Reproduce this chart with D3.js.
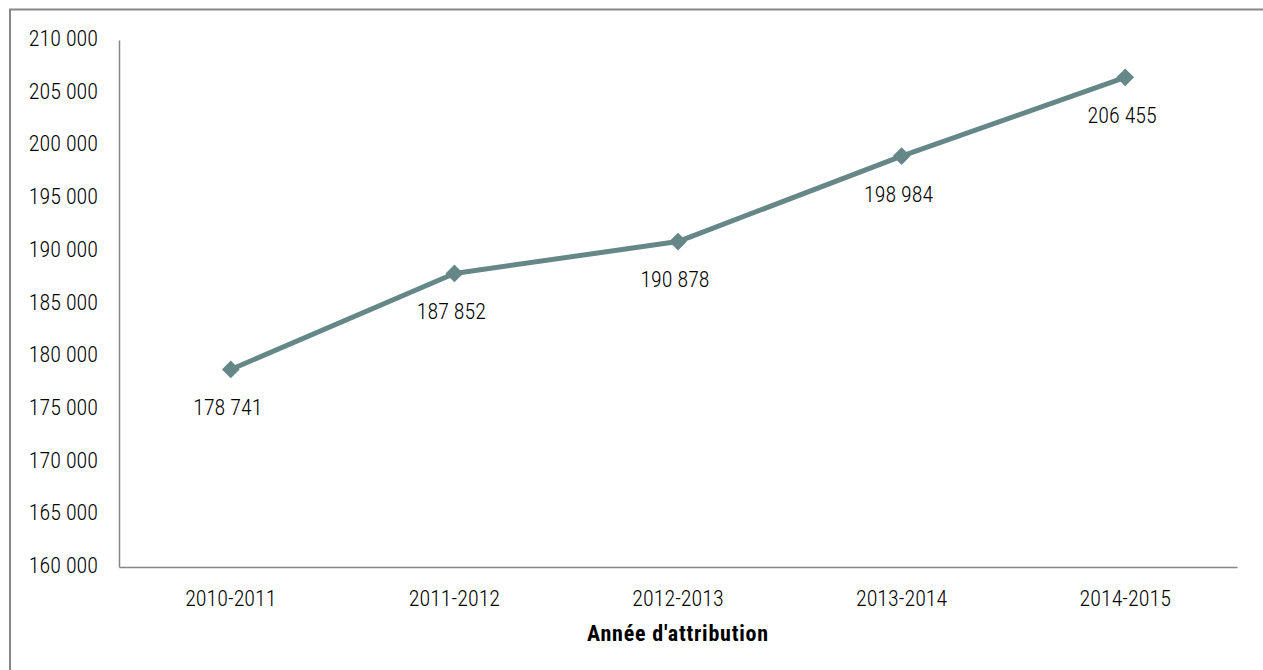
<!DOCTYPE html>
<html><head><meta charset="utf-8">
<script src="https://cdn.jsdelivr.net/npm/d3@7"></script>
<style>body{margin:0;background:#fff}svg{display:block}</style>
</head><body>
<svg id="c" width="1263" height="670"></svg>
<script>
const categories = ["2010-2011","2011-2012","2012-2013","2013-2014","2014-2015"];
const values = [178741, 187852, 190878, 198984, 206455];
const yTicks = [160000,165000,170000,175000,180000,185000,190000,195000,200000,205000,210000];
const xTitle = "Année d'attribution";

const font = "'Roboto Condensed','Liberation Sans Narrow','Arial Narrow',sans-serif";
const fs = 22;
const svg = d3.select("#c");
const m = {l:119, r:1237, t:40, b:567};
const color = "#668788";

svg.append("rect").attr("x",10).attr("y",9.5).attr("width",1300).attr("height",700)
  .attr("fill","none").attr("stroke","#878787").attr("stroke-width",2);

const x = d3.scaleBand().domain(categories).range([m.l, m.r]);
const y = d3.scaleLinear().domain([160000,210000]).range([m.b, m.t]);
const fmt = v => d3.format(",")(v).replace(/,/g, "\u00a0");

const yAxis = svg.append("g").attr("transform",`translate(${m.l},0)`)
  .call(d3.axisLeft(y).tickValues(yTicks).tickSize(0).tickPadding(21).tickFormat(fmt));
yAxis.select(".domain").attr("stroke","#868686").attr("stroke-width",1.5);
yAxis.selectAll("text").attr("font-family",font).attr("font-size",fs).attr("font-weight",300).attr("fill","#000")
  .attr("dy",null).attr("dominant-baseline","central").attr("y",-2);

const xAxis = svg.append("g").attr("transform",`translate(0,${m.b})`)
  .call(d3.axisBottom(x).tickSize(0));
xAxis.select(".domain").attr("stroke","#868686").attr("stroke-width",1.5);
xAxis.selectAll("text").attr("font-family",font).attr("font-size",fs).attr("font-weight",300).attr("fill","#000")
  .attr("dy",null).attr("y",31).attr("dominant-baseline","central");

svg.append("text").attr("x",(m.l+m.r)/2).attr("y",633).attr("text-anchor","middle")
  .attr("dominant-baseline","central").attr("letter-spacing",0.8)
  .attr("font-family",font).attr("font-size",fs).attr("font-weight","bold").text(xTitle);

const pts = categories.map((c,i)=>({c, v:values[i]}));
const cx = d => x(d.c) + x.bandwidth()/2;

svg.append("path").datum(pts)
  .attr("d", d3.line().x(cx).y(d=>y(d.v)))
  .attr("fill","none").attr("stroke",color).attr("stroke-width",5).attr("stroke-linejoin","round");

svg.selectAll(".mk").data(pts).join("path")
  .attr("d", d3.symbol(d3.symbolDiamond2, 200)())
  .attr("transform", d=>`translate(${cx(d)},${y(d.v)})`)
  .attr("fill",color);

svg.selectAll(".lbl").data(pts).join("text")
  .attr("x", d=>cx(d)-3).attr("y", d=>y(d.v)+38)
  .attr("dominant-baseline","central")
  .attr("text-anchor","middle").attr("font-family",font).attr("font-size",fs).attr("font-weight",300).attr("fill","#000")
  .text(d=>fmt(d.v));
</script>
</body></html>
